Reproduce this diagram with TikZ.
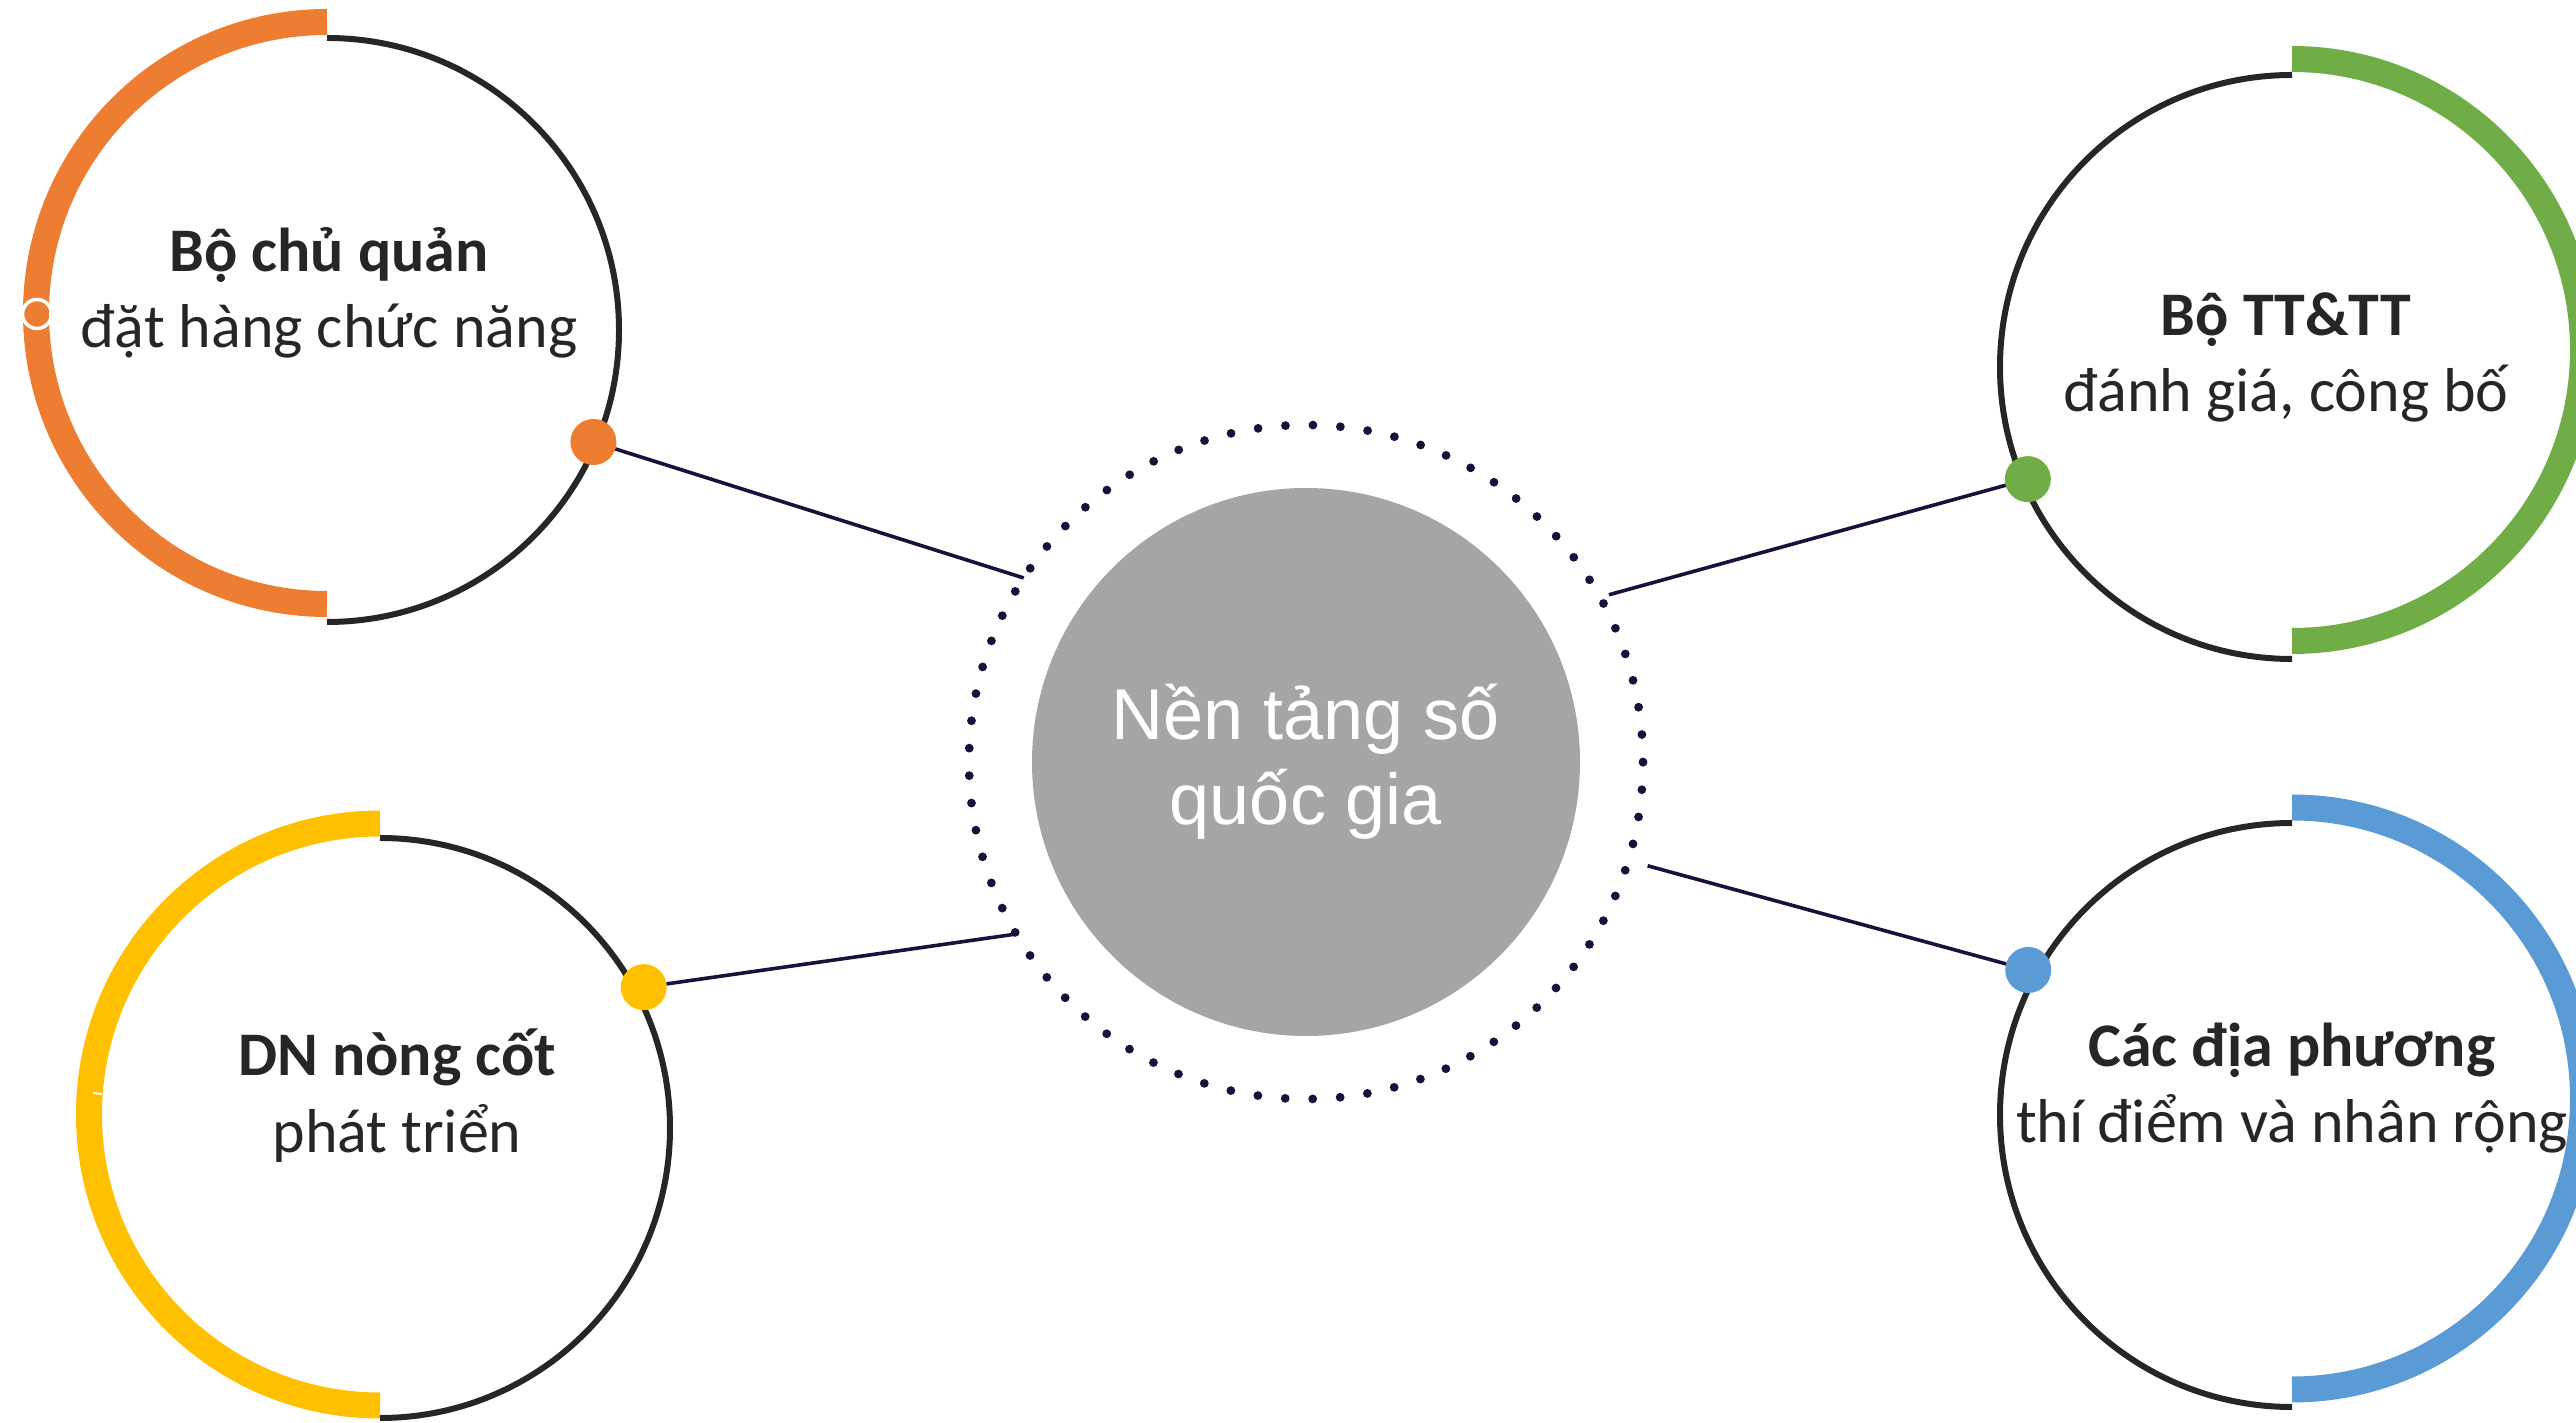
\documentclass[tikz,border=0pt]{standalone}
\usepackage{fontspec}
\setmainfont{Carlito}
\newfontfamily\hubfont{Liberation Sans}
\usetikzlibrary{positioning}

\definecolor{ringorange}{HTML}{ED7D31}
\definecolor{ringgreen}{HTML}{70AD47}
\definecolor{ringyellow}{HTML}{FFC000}
\definecolor{ringblue}{HTML}{5B9BD5}
\definecolor{hubgray}{HTML}{A5A5A5}
\definecolor{rimdark}{HTML}{262626}
\definecolor{linknavy}{HTML}{17123B}

\begin{document}
\begin{tikzpicture}[x=1pt, y=1pt,
    hubdisc/.style={circle, fill=hubgray, minimum size=548pt, inner sep=0pt, text=white, align=center, font=\hubfont\fontsize{72}{85}\selectfont},
    dotring/.style={circle, draw=linknavy, line width=8.8pt, dash pattern=on 0pt off 27.5pt, line cap=round, minimum size=674pt, inner sep=0pt, outer sep=0pt},
    rimarc/.style={draw=rimdark, line width=6pt},
    bandarc/.style={draw=#1, line width=26pt},
    knob/.style={circle, fill=#1, minimum size=46pt, inner sep=0pt, outer sep=0pt},
    linkline/.style={draw=linknavy, line width=3.6pt},
    headtxt/.style={font=\bfseries\fontsize{62}{76}\selectfont, text=rimdark, anchor=base, inner sep=0pt},
    subtxt/.style={font=\fontsize{62}{76}\selectfont, text=rimdark, inner sep=0pt}]

    \useasboundingbox (0,0) rectangle (2576,1422);

    % tâm bốn vòng tròn
    \coordinate (tl) at (327,1092);
    \coordinate (tr) at (2292,1055);
    \coordinate (bl) at (380,294);
    \coordinate (br) at (2292,307);

    % nửa vòng màu
    \draw[bandarc=ringorange] ([yshift=17pt]tl) ++(90:291) arc[start angle=90, end angle=270, radius=291];
    \draw[bandarc=ringgreen] ([yshift=17pt]tr) ++(90:291) arc[start angle=90, end angle=-90, radius=291];
    \draw[bandarc=ringyellow] ([yshift=13.5pt]bl) ++(90:291) arc[start angle=90, end angle=270, radius=291];
    \draw[bandarc=ringblue] ([yshift=16.5pt]br) ++(90:291) arc[start angle=90, end angle=-90, radius=291];

    % nửa vòng đen
    \draw[rimarc] ([shift={(90:292)}]tl) arc[start angle=90, end angle=-90, radius=292];
    \draw[rimarc] ([shift={(90:292)}]tr) arc[start angle=90, end angle=270, radius=292];
    \draw[rimarc] ([shift={(90:290)}]bl) arc[start angle=90, end angle=-90, radius=290];
    \draw[rimarc] ([shift={(90:292)}]br) arc[start angle=90, end angle=270, radius=292];

    % nút giữa
    \node[hubdisc] (hub) at (1306,660) {\raisebox{-5pt}{Nền tảng số}\\\raisebox{-5pt}{quốc gia}};
    \node[dotring] (halo) at (hub) {};

    % đầu nối trên vòng chấm
    \coordinate (tlend) at ([shift={(146.9:337)}]hub.center);
    \coordinate (trend) at ([shift={(28.9:346)}]hub.center);
    \coordinate (blend) at ([shift={(210.7:337)}]hub.center);
    \coordinate (brend) at ([shift={(-16.9:357)}]hub.center);

    % chấm màu
    \node[knob=ringorange] (tlknob) at ([shift={(-22.8:289)}]tl) {};
    \node[knob=ringgreen] (trknob) at ([shift={(203:287)}]tr) {};
    \node[knob=ringyellow] (blknob) at ([shift={(28.1:299)}]bl) {};
    \node[knob=ringblue] (brknob) at ([shift={(151.2:301)}]br) {};

    % đường nối
    \draw[linkline] (tlknob) -- (tlend);
    \draw[linkline] (trknob) -- (trend);
    \draw[linkline] (blknob) -- (blend);
    \draw[linkline] (brknob) -- (brend);

    % chữ
    \node[headtxt] (tlhead) at (329,1150) {Bộ chủ quản};
    \node[subtxt, below=76pt of tlhead.base, anchor=base] (tlsub) {đặt hàng chức năng};
    \node[headtxt] (trhead) at (2286,1086) {Bộ TT\&TT};
    \node[subtxt, below=76pt of trhead.base, anchor=base] (trsub) {đánh giá, công bố};
    \node[headtxt] (blhead) at (397,346) {DN nòng cốt};
    \node[subtxt, below=77pt of blhead.base, anchor=base] (blsub) {phát triển};
    \node[headtxt] (brhead) at (2292,355) {Các địa phương};
    \node[subtxt, below=76pt of brhead.base, anchor=base] (brsub) {thí điểm và nhân rộng};

    % vết trắng nhỏ
    \node[circle, draw=white, line width=3.5pt, minimum size=29pt, inner sep=0pt] (tlmark) at (37,1108) {};
    \draw[white, line width=2pt] (93,329) -- (102,328);

\end{tikzpicture}
\end{document}
